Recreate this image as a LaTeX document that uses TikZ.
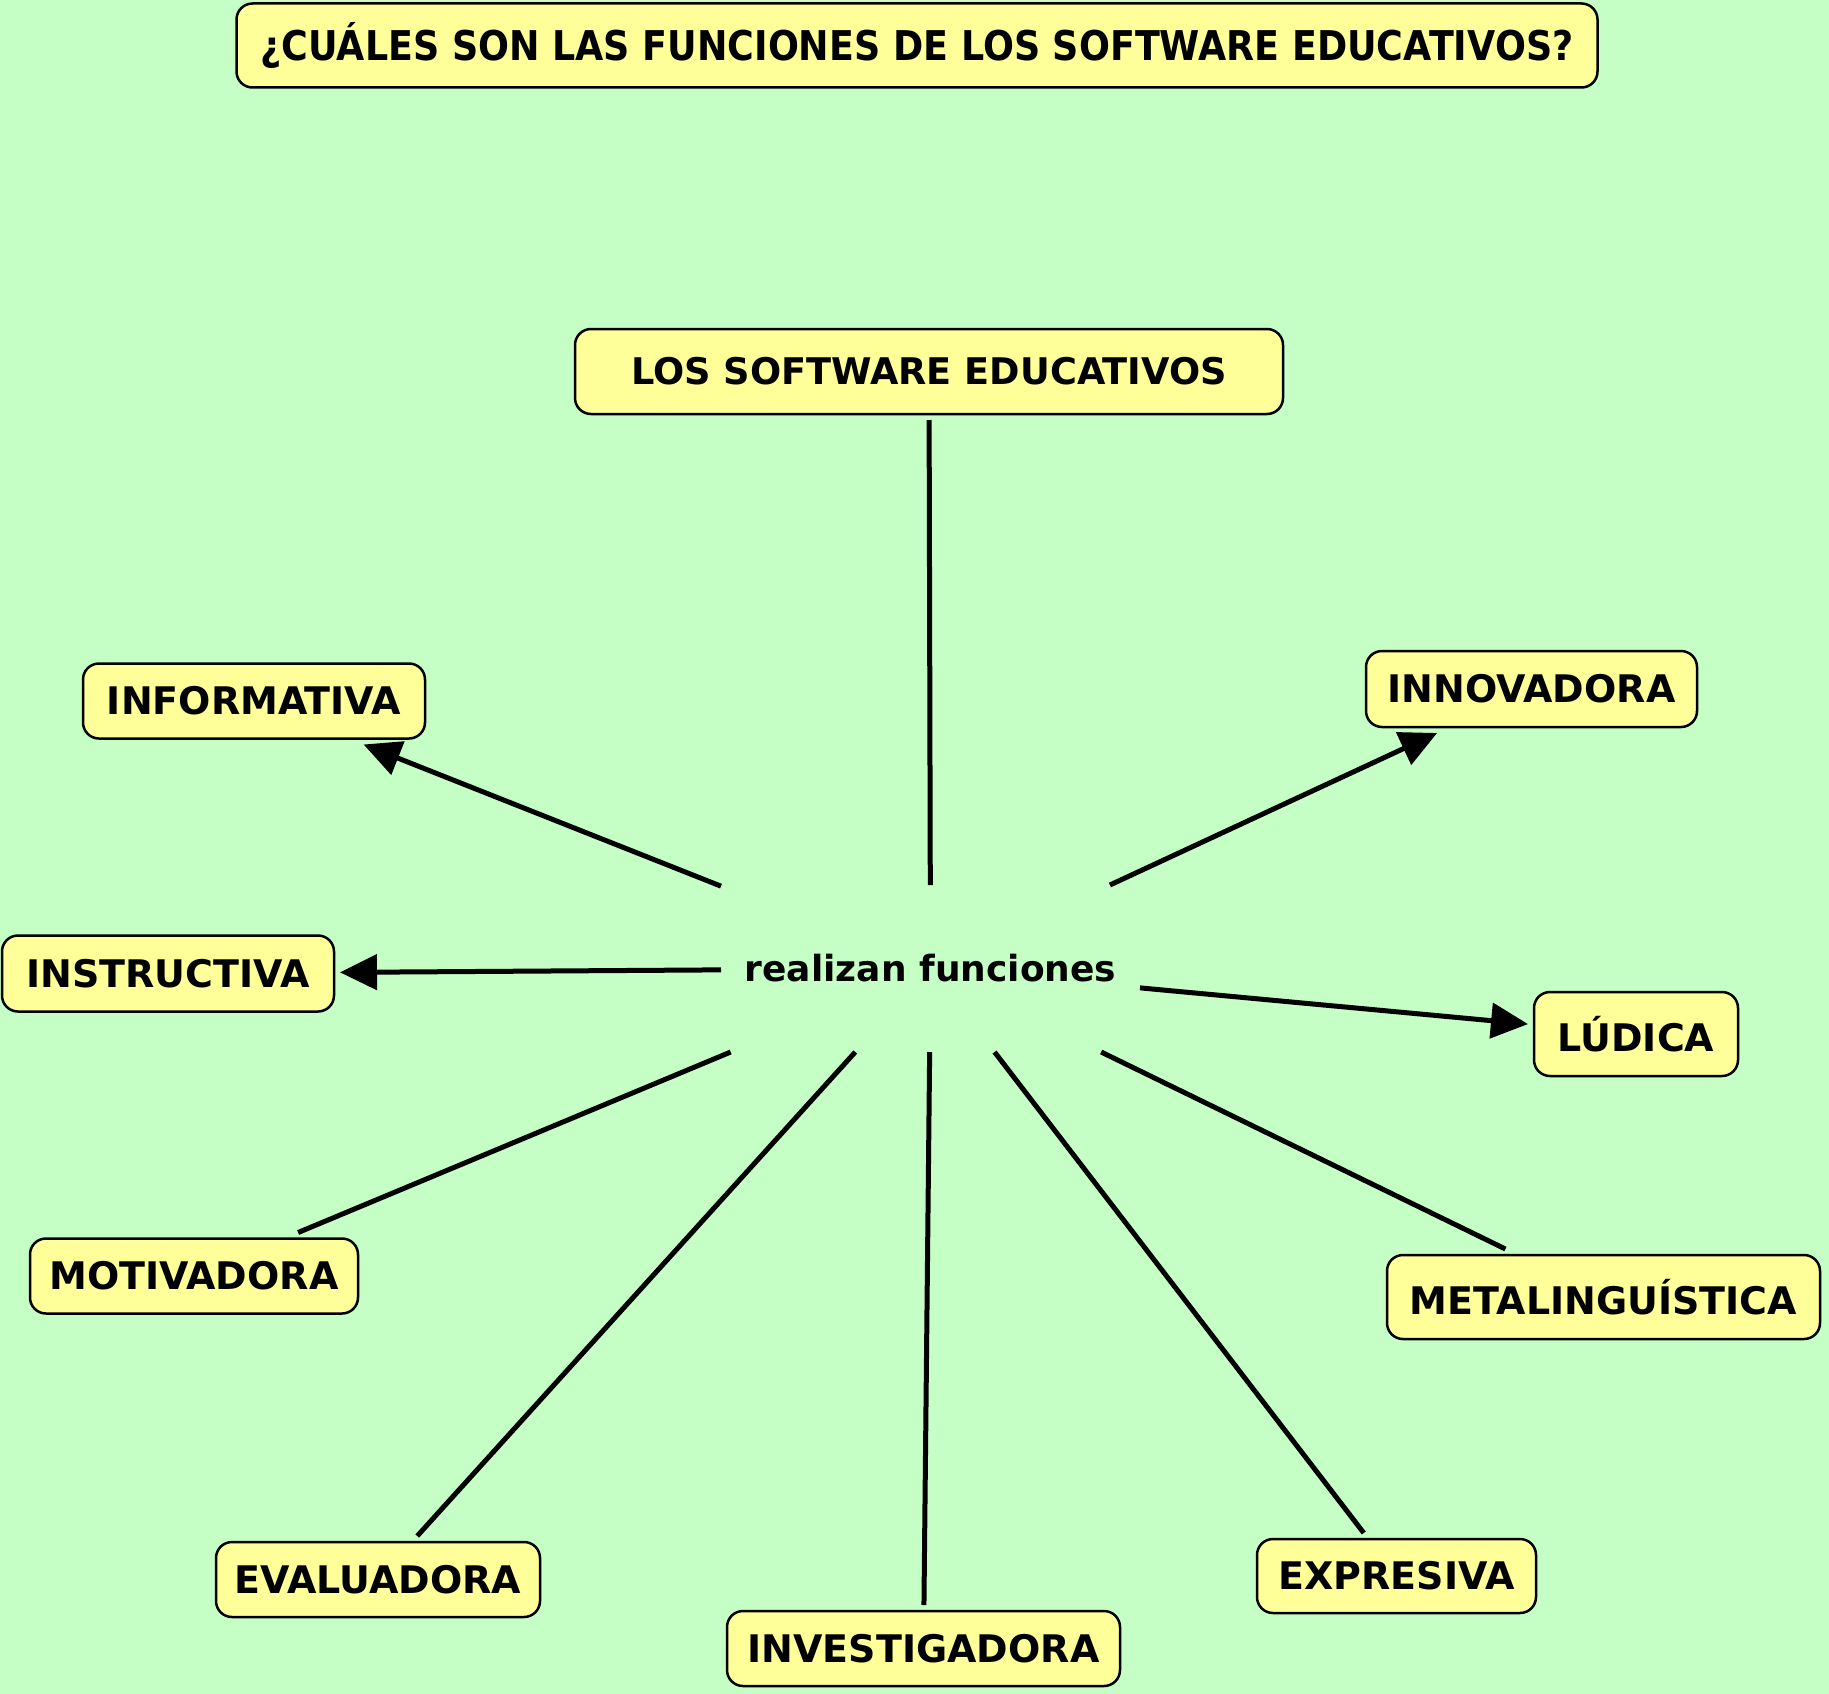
\documentclass[tikz,border=0pt]{standalone}
\usepackage{fontspec}
\setmainfont{DejaVu Sans}
\usepackage{graphicx}
\usetikzlibrary{arrows.meta}
\definecolor{bg}{RGB}{198,255,198}
\definecolor{boxfill}{RGB}{255,255,153}
\begin{document}
\begin{tikzpicture}[x=1pt,y=-1pt,
  concept/.style={draw=black, line width=2.5pt, fill=boxfill, rounded corners=16pt,
    font=\fontsize{38}{42}\selectfont\bfseries, inner sep=0pt, outer sep=6pt, minimum height=75pt},
  link/.style={line width=5pt},
  arrowlink/.style={link, -{Triangle[length=37pt,width=35pt]}},
]
\fill[bg] (0,0) rectangle (1829,1694);
\useasboundingbox (0,0) rectangle (1829,1694);

\node[concept, minimum width=1361pt, minimum height=84pt] (title) at (917,45.5)
  {\resizebox{1313pt}{\height}{\fontsize{41}{44}\selectfont\bfseries ¿CUÁLES SON LAS FUNCIONES DE LOS SOFTWARE EDUCATIVOS?}};
\node[concept, minimum width=708pt, minimum height=85pt, font=\fontsize{36.7}{40}\selectfont\bfseries] (sw) at (929,371.5) {LOS SOFTWARE EDUCATIVOS};
\node[concept, minimum width=342pt] (inf) at (254,701) {INFORMATIVA};
\node[concept, minimum width=331pt, minimum height=76pt] (inn) at (1531.5,689) {INNOVADORA};
\node[concept, minimum width=332pt, minimum height=76pt] (ins) at (168,973.5) {INSTRUCTIVA};
\node[concept, minimum width=204pt, minimum height=84pt] (lud) at (1636,1034) {LÚDICA};
\node[concept, minimum width=328pt] (mot) at (194,1276) {MOTIVADORA};
\node[concept, minimum width=433pt, minimum height=84pt] (met) at (1603.5,1297) {METALINGUÍSTICA};
\node[concept, minimum width=324pt] (eva) at (378,1579.5) {EVALUADORA};
\node[concept, minimum width=393pt] (inv) at (923.5,1648.5) {INVESTIGADORA};
\node[concept, minimum width=279pt, minimum height=74pt] (exp) at (1396.5,1576) {EXPRESIVA};
\node[minimum width=419pt, minimum height=167pt, inner sep=0pt, outer sep=0pt,
  font=\fontsize{36}{40}\selectfont\bfseries] (rf) at (930.5,968.5) {realizan funciones};

\draw[link] (rf) -- (sw);
\draw[arrowlink] (rf) -- (inf);
\draw[arrowlink] (rf) -- (inn);
\draw[arrowlink] (rf) -- (ins);
\draw[arrowlink] (rf) -- (lud);
\draw[link] (rf) -- (mot);
\draw[link] (rf) -- (eva);
\draw[link] (rf) -- (inv);
\draw[link] (rf) -- (exp);
\draw[link] (rf) -- (met);
\end{tikzpicture}
\end{document}
